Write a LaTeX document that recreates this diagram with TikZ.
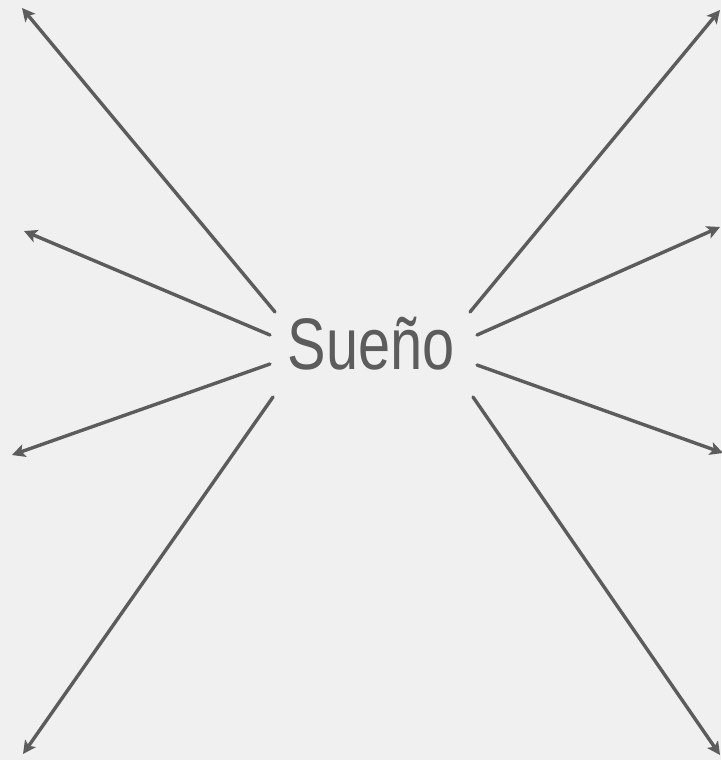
\documentclass[tikz,border=0pt]{standalone}
\usepackage{fontspec}
\setmainfont[FakeStretch=0.79]{Liberation Sans}
\usepackage{xcolor}
\usetikzlibrary{arrows.meta}

\definecolor{bggray}{HTML}{F0F0F0}
\definecolor{arrowgray}{HTML}{5C5C5C}

\begin{document}
\begin{tikzpicture}[x=1pt, y=-1pt, line cap=round,
    ray/.style={draw=arrowgray, line width=3.4pt,
        -{Stealth[length=13pt, width=13pt, inset=3pt]}}]

    % Background
    \fill[bggray] (0,0) rectangle (721,760);
    \useasboundingbox (0,0) rectangle (721,760);

    % Centre word
    \node[text=arrowgray, font=\fontsize{73}{73}\selectfont, inner sep=0pt]
        (sueno) at (371,344) {Sueño};

    % Start points round the word
    \coordinate (S1) at (275,312);
    \coordinate (S2) at (270,335);
    \coordinate (S3) at (270,364);
    \coordinate (S4) at (273,397);
    \coordinate (S5) at (470,312);
    \coordinate (S6) at (477,335);
    \coordinate (S7) at (477,365);
    \coordinate (S8) at (473,397);

    % Tips
    \coordinate (T1) at (22,8);
    \coordinate (T2) at (24,231);
    \coordinate (T3) at (12,455);
    \coordinate (T4) at (23,754);
    \coordinate (T5) at (720,10);
    \coordinate (T6) at (720,227);
    \coordinate (T7) at (723,453);
    \coordinate (T8) at (720,755);

    % Rays
    \draw[ray] (S1) -- (T1);
    \draw[ray] (S2) -- (T2);
    \draw[ray] (S3) -- (T3);
    \draw[ray] (S4) -- (T4);
    \draw[ray] (S5) -- (T5);
    \draw[ray] (S6) -- (T6);
    \draw[ray] (S7) -- (T7);
    \draw[ray] (S8) -- (T8);
\end{tikzpicture}
\end{document}
